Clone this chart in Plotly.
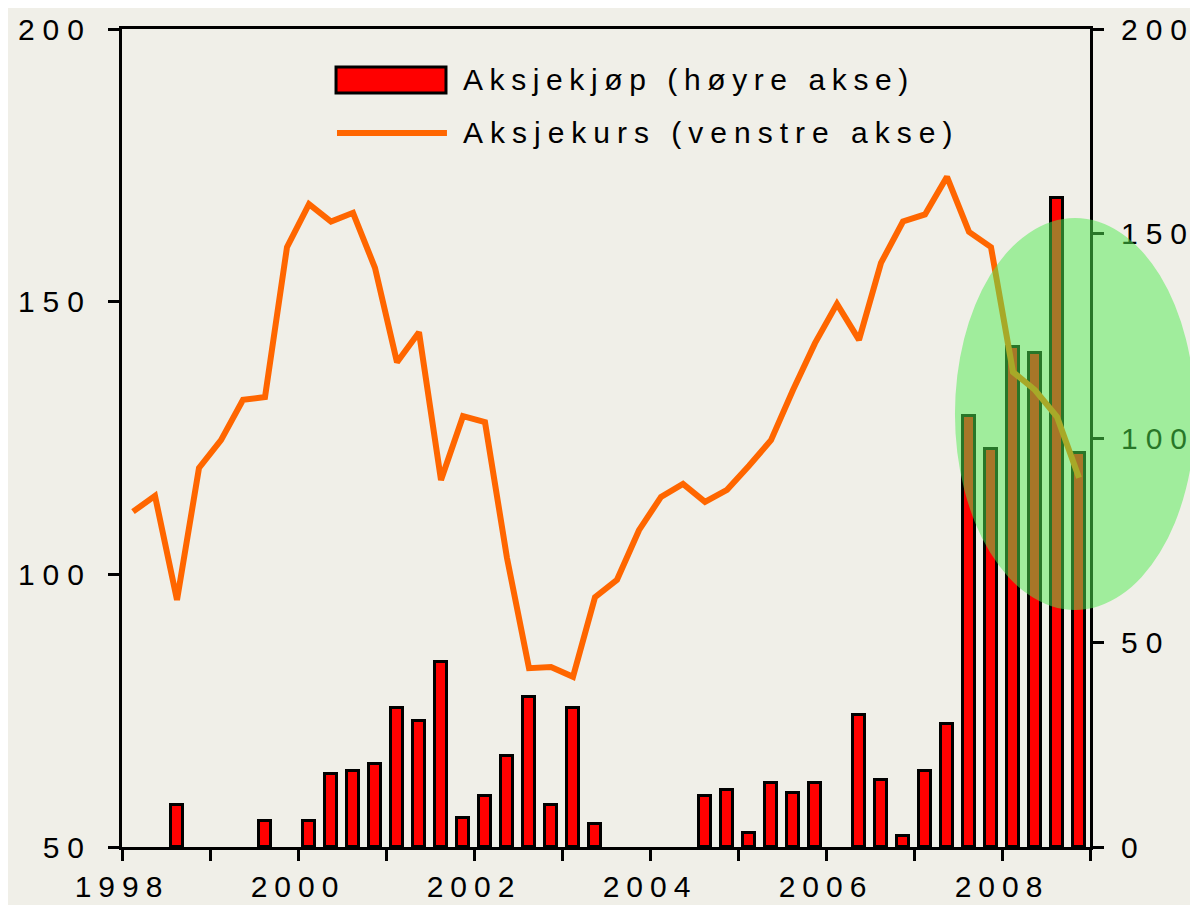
import plotly.graph_objects as go

# Quarterly data 1998K1 - 2008K4
years = list(range(1998, 2009))
quarters = [f"{y}K{q}" for y in years for q in range(1, 5)]

# Aksjekurs (venstre akse)
aksjekurs = [111.5, 114.4, 95.3, 119.5, 124.6, 132.0, 132.5, 160.0,
             167.9, 164.7, 166.3, 156.2, 138.9, 144.4, 117.3, 129.0,
             127.9, 103.0, 82.8, 83.0, 81.2, 95.8, 99.0, 108.1,
             114.2, 116.6, 113.3, 115.5, 119.9, 124.6, 133.8, 142.4,
             149.6, 143.0, 157.1, 164.7, 166.0, 172.9, 162.8, 160.0,
             137.1, 133.8, 128.9, 117.7]

# Aksjekjøp (høyre akse); None = no purchase that quarter
aksjekjop = [None, None, 10.3, None, None, None, 6.4, None,
             6.4, 17.8, 18.6, 20.3, 34.0, 30.8, 45.2, 7.1,
             12.5, 22.2, 36.7, 10.3, 34.0, 5.6, None, None,
             None, None, 12.5, 13.9, 3.4, 15.6, 13.2, 15.6,
             None, 32.3, 16.4, 2.7, 18.6, 30.1, 105.4, 97.3,
             122.2, 120.8, 158.7, 96.3]

x_tick_years = list(range(1998, 2010))
x_tick_labels = [str(y) if y % 2 == 0 else "" for y in x_tick_years]
left_ticks = [50, 100, 150, 200]
right_ticks = [0, 50, 100, 150, 200]

# numeric x position: middle of each quarter
xpos = [int(q[:4]) + (int(q[-1]) - 0.5) / 4 for q in quarters]

BG = "#F0EFE8"
FONT = "Liberation Sans, Arial, sans-serif"


def spaced(s, px=7):
    return f'<span style="letter-spacing:{px}px">{s}</span>' if s else ""


fig = go.Figure()

fig.add_trace(go.Bar(
    x=xpos, y=aksjekjop, name="Aksjekjøp (høyre akse)",
    width=0.13,
    marker=dict(color="#FF0000", line=dict(color="black", width=3)),
    yaxis="y", showlegend=False,
))

fig.add_trace(go.Scatter(
    x=xpos, y=aksjekurs, name="Aksjekurs (venstre akse)",
    mode="lines", line=dict(color="#FF6600", width=6),
    yaxis="y2", showlegend=False,
))

axis_common = dict(
    showgrid=False, zeroline=False, showline=True, linecolor="black",
    linewidth=3, ticks="outside", tickwidth=3, ticklen=11, tickcolor="black",
    tickfont=dict(family=FONT, size=30, color="black"), automargin=False,
)

fig.update_layout(
    width=1190, height=897,
    margin=dict(l=114, r=108, t=21, b=58),
    paper_bgcolor=BG, plot_bgcolor=BG,
    bargap=0,
    xaxis=dict(range=[1998, 2009], tickmode="array", tickvals=x_tick_years,
               ticktext=[spaced(t, 7) for t in x_tick_labels], mirror=True,
               ticklabelstandoff=0, **axis_common),
    yaxis=dict(range=[0, 200], tickmode="array", tickvals=right_ticks,
               ticktext=[spaced(str(v), 8) for v in right_ticks],
               side="right", ticklabelstandoff=11, **axis_common),
    yaxis2=dict(range=[50, 200], tickmode="array", tickvals=left_ticks,
                ticktext=[spaced(str(v), 8) for v in left_ticks],
                side="left", overlaying="y", ticklabelstandoff=10, **axis_common),
    showlegend=False,
)

# Custom legend (swatches + labels)
fig.add_shape(type="rect", xref="paper", yref="paper",
              x0=0.2211, x1=0.3347, y0=0.9218, y1=0.9535,
              fillcolor="#FF0000", line=dict(color="black", width=3))
fig.add_shape(type="line", xref="paper", yref="paper",
              x0=0.2221, x1=0.3357, y0=0.8729, y1=0.8729,
              line=dict(color="#FF6600", width=6))
fig.add_annotation(xref="paper", yref="paper", x=0.3502, y=0.9377,
                   xanchor="left", yanchor="middle", showarrow=False,
                   text=spaced("Aksjekjøp (høyre akse)", 6.6),
                   font=dict(family=FONT, size=30, color="black"))
fig.add_annotation(xref="paper", yref="paper", x=0.3502, y=0.8729,
                   xanchor="left", yanchor="middle", showarrow=False,
                   text=spaced("Aksjekurs (venstre akse)", 7.0),
                   font=dict(family=FONT, size=30, color="black"))

# Green highlight ellipse
fig.add_shape(type="circle", xref="paper", yref="paper", layer="above",
              x0=0.8605, x1=1.1085, y0=0.2897, y1=0.769,
              fillcolor="rgba(80,235,80,0.5)", line=dict(width=0))

fig.write_html("out.html")
